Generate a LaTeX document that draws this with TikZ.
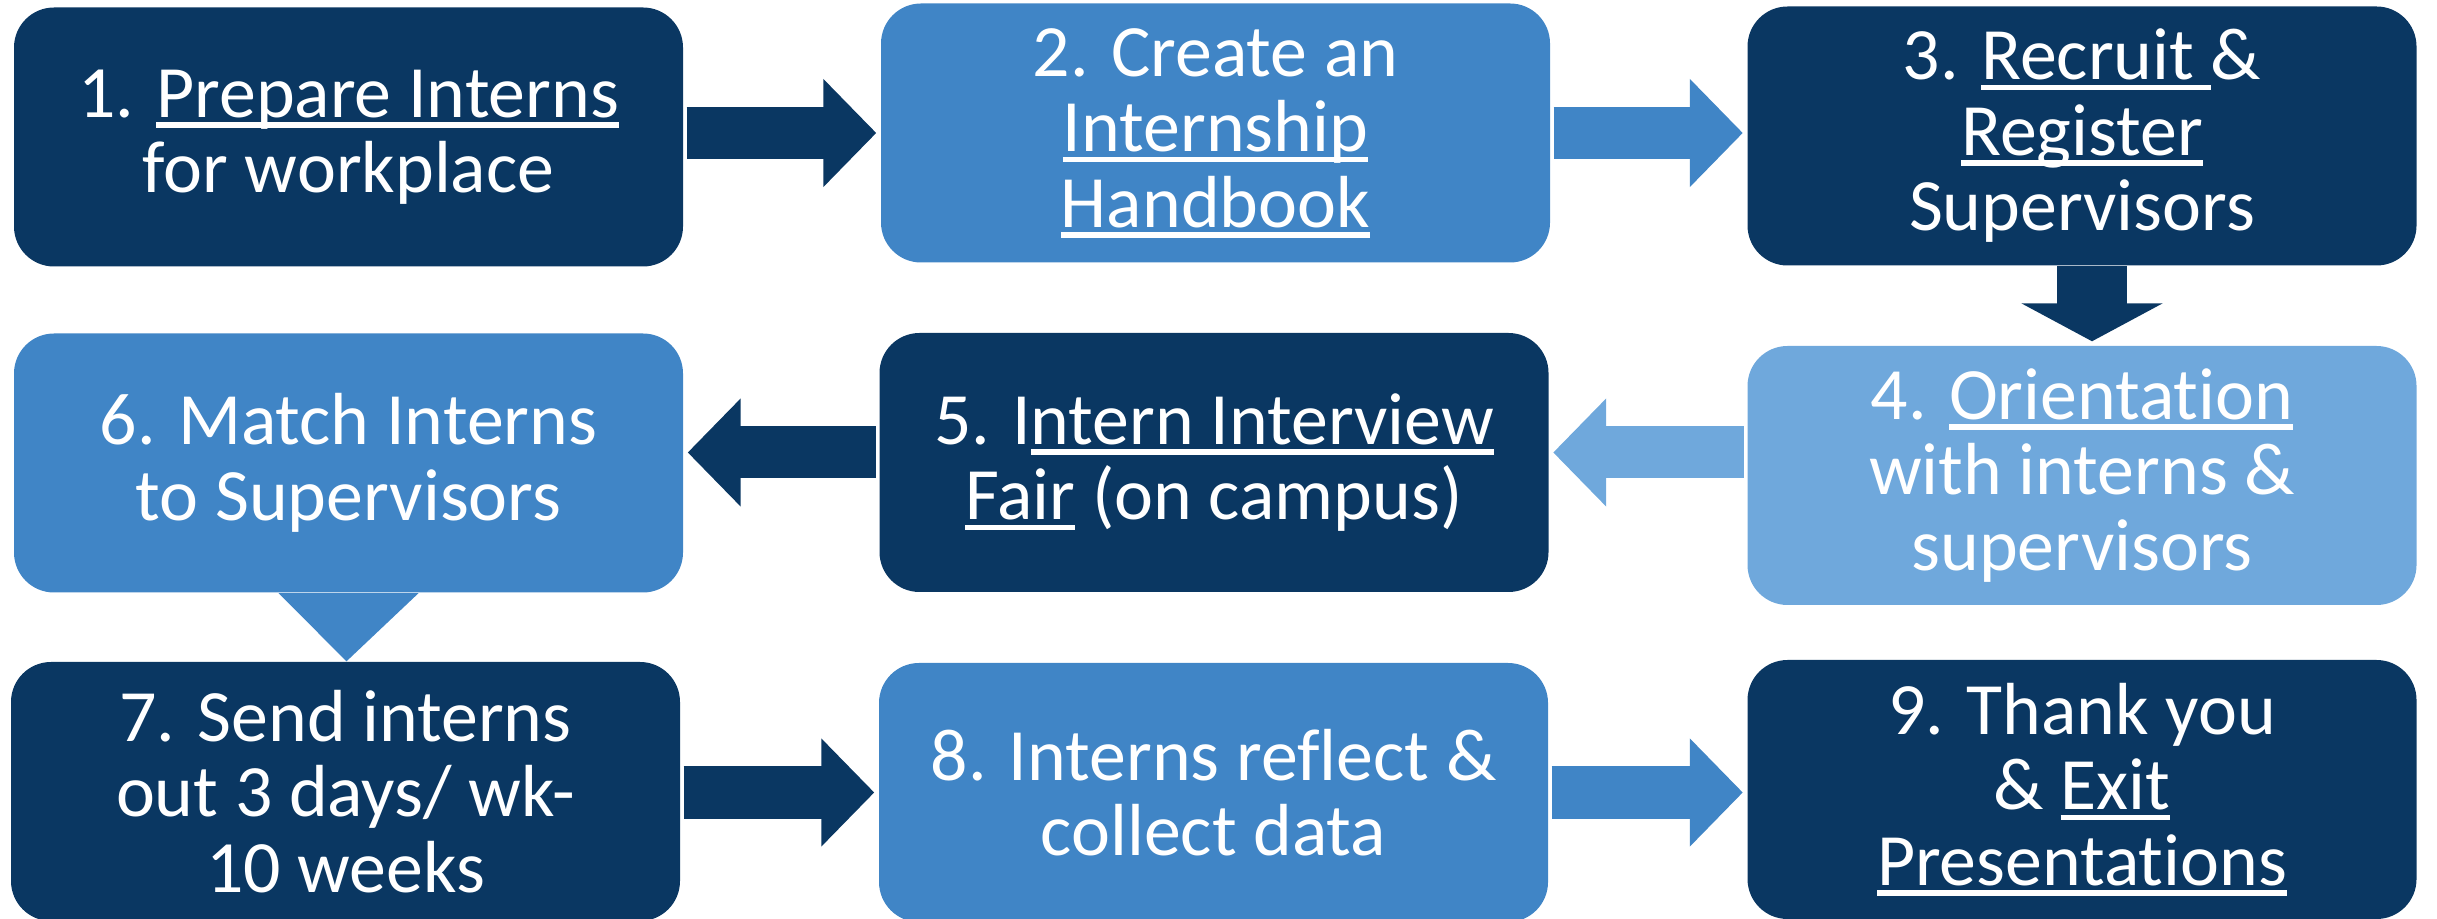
\documentclass[tikz,border=0pt]{standalone}
\usepackage{fontspec}
\setmainfont{Carlito}[Ligatures=NoCommon]
\usetikzlibrary{arrows.meta}
\definecolor{navy}{RGB}{10,55,98}
\definecolor{midblue}{RGB}{64,133,198}
\definecolor{lightblue}{RGB}{111,168,220}
\newcommand{\undl}[1]{{\setbox0=\hbox{#1}\rlap{\vrule height -1.4pt depth 3pt width \wd0}\box0}}

\begin{document}
\begin{tikzpicture}
		\tikzstyle {stage box} = [rounded corners=0.4cm, minimum width=6.69cm, minimum height=2.59cm, inner sep=0pt, text=white, align=center, font=\fontsize{21}{21.5}\selectfont]
		\tikzstyle {fat arrow} = [line width=0.52cm, -{Triangle[length=0.53cm, width=1.05cm]}, shorten <=0.03cm, shorten >=0.04cm]
		
		\useasboundingbox (0,0) rectangle (24.37,9.18);
		
		\node[stage box, fill=navy] (prepare) at (3.485,7.81) {1. \undl{Prepare Interns}\\for workplace};
		\node[stage box, fill=midblue] (handbook) at (12.155,7.85) {2. Create an\\\undl{Internship}\\\undl{Handbook}};
		\node[stage box, fill=navy] (recruit) at (20.82,7.82) {3. \undl{Recruit\ }\&\\\undl{Register}\\Supervisors};
		
		\node[stage box, fill=lightblue] (orient) at (20.82,4.425) {4. \undl{Orientation}\\with interns \&\\supervisors};
		\node[stage box, fill=navy] (fair) at (12.14,4.555) {5. I\undl{ntern Interview}\\\undl{Fair} (on campus)};
		\node[stage box, fill=midblue] (match) at (3.485,4.55) {6. Match Interns\\to Supervisors};
		
		\node[stage box, fill=navy] (send) at (3.455,1.265) {7. Send interns\\out 3 days/ wk-\\10 weeks};
		\node[stage box, fill=midblue] (reflect) at (12.135,1.255) {8. Interns reflect \&\\collect data};
		\node[stage box, fill=navy] (thanks) at (20.82,1.285) {9. Thank you\\\& \undl{Exit}\\\undl{Presentations}};
		
		\draw[fat arrow, navy] (prepare.east |- handbook.west) -- (handbook.west);
		\draw[fat arrow, midblue] (handbook.east) -- (handbook.east -| recruit.west);
		
		\draw[navy, line width=0.70cm, -{Triangle[length=0.38cm, width=1.40cm]}, shorten >=0.04cm] ([xshift=0.1cm]recruit.south) -- ([xshift=0.1cm]recruit.south |- orient.north);
		
		\draw[fat arrow, lightblue] ([yshift=0.1cm]orient.west |- fair.east) -- ([yshift=0.1cm]fair.east);
		\draw[fat arrow, navy] ([yshift=0.1cm]fair.west) -- ([yshift=0.1cm]fair.west -| match.east);
		
		\fill[midblue] ([xshift=-0.7cm]match.south) -- ([xshift=0.7cm]match.south) -- ([xshift=-0.02cm]match.south |- send.north) -- cycle;
		
		\draw[fat arrow, navy] (send.east |- reflect.west) -- (reflect.west);
		\draw[fat arrow, midblue] (reflect.east) -- (reflect.east -| thanks.west);
		
\end{tikzpicture}
\end{document}
